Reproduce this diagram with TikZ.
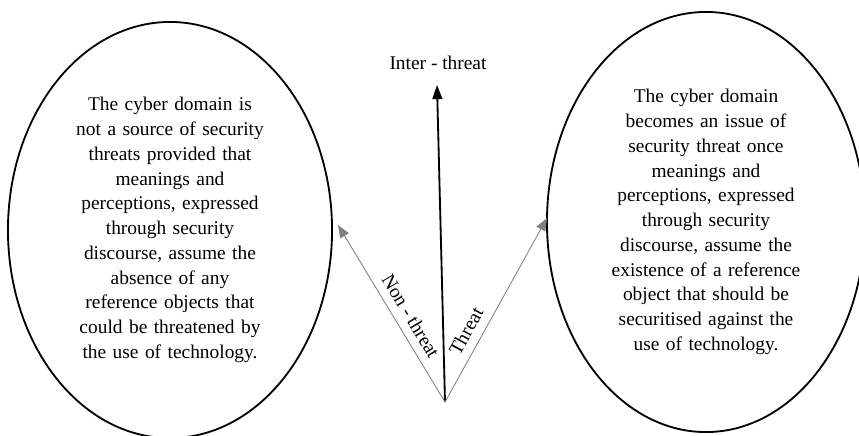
\documentclass[tikz,border=0pt]{standalone}
\usepackage{fontspec}
\setmainfont{Liberation Serif}
\usetikzlibrary{shapes.geometric,arrows.meta}
\begin{document}
\begin{tikzpicture}[x=0.025cm, y=-0.025cm,
    view/.style={ellipse, draw, line width=1.3pt, inner sep=0pt, align=center,
        text width=5.2cm, font=\fontsize{13.8}{17.6}\selectfont},
    lbl/.style={font=\fontsize{13.8}{16}\selectfont, inner sep=0pt},
    side/.style={draw=gray, line width=0.6pt, -{Triangle[length=9pt,width=7pt]}}]
    \useasboundingbox (0,0) rectangle (859,435);
    % the two views
    \node[view, minimum width=8.1cm, minimum height=10.4cm] (nonview) at (170,230) {The cyber domain is\\not a source of security\\threats provided that\\meanings and\\perceptions, expressed\\through security\\discourse, assume the\\absence of any\\reference objects that\\could be threatened by\\the use of technology.};
    \node[view, minimum width=7.95cm, minimum height=10.5cm] (threatview) at (706,222) {The cyber domain\\becomes an issue of\\security threat once\\meanings and\\perceptions, expressed\\through security\\discourse, assume the\\existence of a reference\\object that should be\\securitised against the\\use of technology.};
    % arrows
    \coordinate (origin) at (445,402);
    \coordinate (intertip) at (437,85);
    \coordinate (nontip) at (338,225);
    \coordinate (threattip) at (547,218);
    \node[lbl] (inter) at (438,63) {Inter - threat};
    \draw[line width=1.3pt, -{Triangle[length=10pt,width=7pt]}] (origin) -- (intertip);
    \draw[side] (origin) -- (nontip);
    \draw[side] (origin) -- (threattip);
    \node[lbl, rotate=-59] (nonlbl) at (411,316) {Non - threat};
    \node[lbl, rotate=61] (threatlbl) at (466,331) {Threat};
\end{tikzpicture}
\end{document}
